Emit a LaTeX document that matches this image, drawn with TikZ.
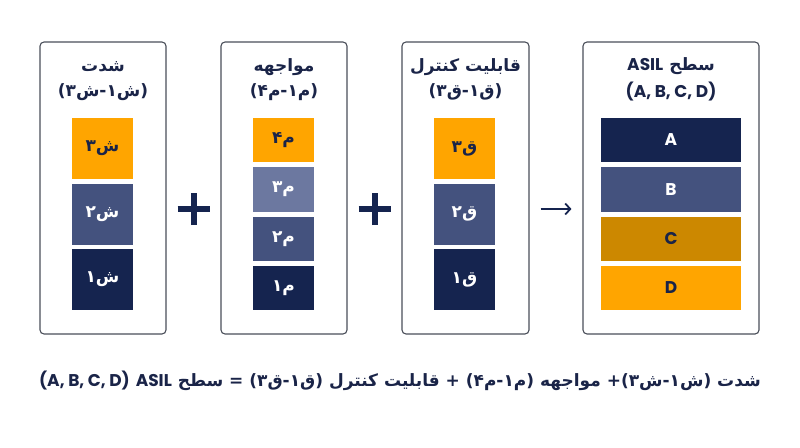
\documentclass[tikz,border=0pt]{standalone}
\usepackage{fontspec}
\usetikzlibrary{arrows.meta}
\setmainfont{DejaVu Sans}
\newfontfamily\fa[Script=Arabic]{DejaVu Sans}
\newfontfamily\lat{Poppins}
\TeXXeTstate=1
\definecolor{navy}{HTML}{15244F}
\definecolor{midblue}{HTML}{44527E}
\definecolor{lightblue}{HTML}{6C78A0}
\definecolor{orangeA}{HTML}{FFA500}
\definecolor{goldC}{HTML}{CC8800}
\definecolor{borderc}{HTML}{4A4F5A}
\definecolor{textdark}{HTML}{1A2448}
\tikzset{
  panel/.style={draw=borderc, line width=1.1pt, rounded corners=4pt, fill=white, inner sep=0pt},
  cell/.style={fill=#1, inner sep=0pt, text=white, font=\fa\bfseries\fontsize{17}{20}\selectfont},
  bar/.style={fill=#1, inner sep=0pt, text=white, minimum width=140pt, minimum height=44.5pt, font=\lat\bfseries\fontsize{17}{20}\selectfont},
  title/.style={text=textdark, font=\fa\bfseries\fontsize{17}{20}\selectfont, inner sep=0pt},
  plusbar/.style={draw=navy, line width=6pt},
  arr/.style={draw=navy, line width=1.8pt, -{Straight Barb[length=5pt,width=11pt]}},
}
\begin{document}
\begin{tikzpicture}[x=1pt,y=-1pt]
\useasboundingbox[fill=white] (0,0) rectangle (800,447);
% panels
\node[panel, minimum width=126pt, minimum height=292pt] (p1) at (103,188) {};
\node[panel, minimum width=126pt, minimum height=292pt] (p2) at (284,188) {};
\node[panel, minimum width=127pt, minimum height=292pt] (p3) at (465.5,188) {};
\node[panel, minimum width=176pt, minimum height=292pt] (p4) at (671,188) {};
% titles
\node[title] (t1a) at (103,67) {\beginR شدت\endR};
\node[title] (t1b) at (103,92) {\beginR (ش۱-ش۳)\endR};
\node[title] (t2a) at (284,67) {\beginR مواجهه\endR};
\node[title] (t2b) at (284,92) {\beginR (م۱-م۴)\endR};
\node[title] (t3a) at (465.5,67) {\beginR قابلیت کنترل\endR};
\node[title] (t3b) at (465.5,92) {\beginR (ق۱-ق۳)\endR};
\node[title] (t4a) at (671,66) {\beginR سطح {\lat\bfseries ASIL}\endR};
\node[title, font=\lat\bfseries\fontsize{17}{20}\selectfont] (t4b) at (671,92) {(A, B, C, D)};
% panel 1 cells
\node[cell=orangeA, text=textdark, minimum width=61pt, minimum height=61pt] (s3) at (102.5,148.5) {\beginR ش۳\endR};
\node[cell=midblue, minimum width=61pt, minimum height=61pt] (s2) at (102.5,214) {\beginR ش۲\endR};
\node[cell=navy, minimum width=61pt, minimum height=61pt] (s1) at (102.5,279.5) {\beginR ش۱\endR};
% panel 2 cells
\node[cell=orangeA, text=textdark, minimum width=61pt, minimum height=44.5pt] (m4) at (283.5,140) {\beginR م۴\endR};
\node[cell=lightblue, minimum width=61pt, minimum height=44.5pt] (m3) at (283.5,189.5) {\beginR م۳\endR};
\node[cell=midblue, minimum width=61pt, minimum height=44.5pt] (m2) at (283.5,239) {\beginR م۲\endR};
\node[cell=navy, minimum width=61pt, minimum height=44.5pt] (m1) at (283.5,288) {\beginR م۱\endR};
% panel 3 cells
\node[cell=orangeA, text=textdark, minimum width=61pt, minimum height=61pt] (q3) at (464.5,148.5) {\beginR ق۳\endR};
\node[cell=midblue, minimum width=61pt, minimum height=61pt] (q2) at (464.5,214) {\beginR ق۲\endR};
\node[cell=navy, minimum width=61pt, minimum height=61pt] (q1) at (464.5,279.5) {\beginR ق۱\endR};
% panel 4 bars
\node[bar=navy] (la) at (671,140) {A};
\node[bar=midblue] (lb) at (671,189.5) {B};
\node[bar=goldC, text=textdark] (lc) at (671,239) {C};
\node[bar=orangeA, text=textdark] (ld) at (671,288) {D};
% plus signs
\coordinate (pl1) at (193.5,209);
\coordinate (pl2) at (374.5,209);
\foreach \c in {pl1,pl2}{
  \draw[plusbar] ([xshift=-16pt]\c) -- ([xshift=16pt]\c);
  \draw[plusbar] ([yshift=-16pt]\c) -- ([yshift=16pt]\c);
}
% arrow
\draw[arr] ([yshift=-21pt, xshift=11pt]p3.east) -- ([yshift=-21pt, xshift=-11pt]p4.west);
% formula
\node[title, font=\fa\bfseries\fontsize{17}{20}\selectfont] (f) at (400,381) {\beginR شدت (ش۱-ش۳)+ مواجهه (م۱-م۴) + قابلیت کنترل (ق۱-ق۳) = سطح {\lat\bfseries ASIL} \beginL{\lat\bfseries (A, B, C, D)}\endL\endR};
\end{tikzpicture}
\end{document}
